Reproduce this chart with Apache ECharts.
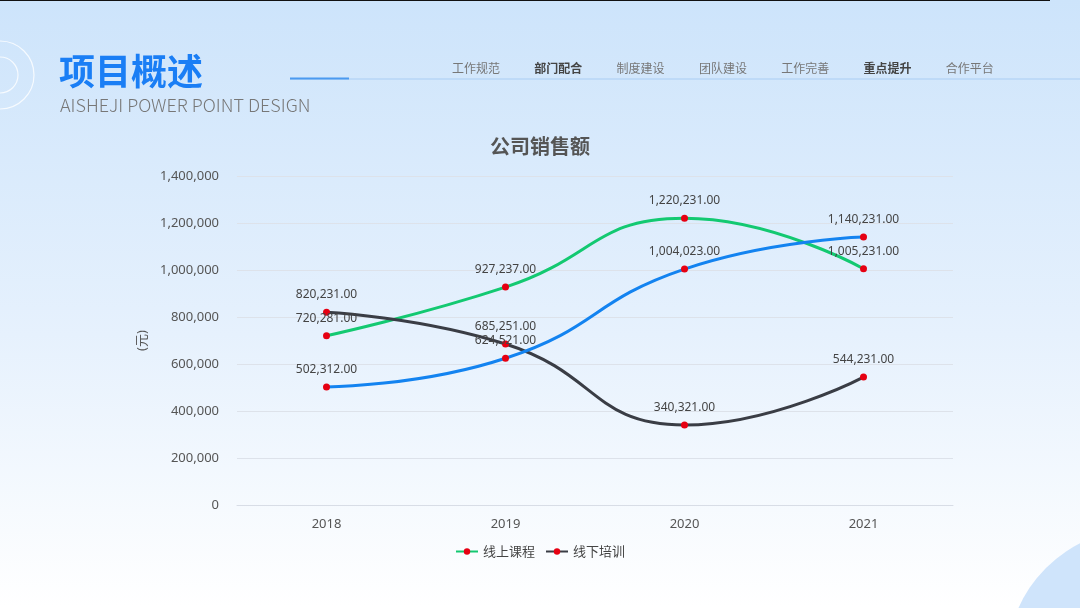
<!DOCTYPE html>
<html>
<head>
<meta charset="utf-8">
<script src="https://cdn.jsdelivr.net/npm/echarts@6/dist/echarts.min.js"></script>
<style>
  html, body { margin: 0; padding: 0; }
  #chart { width: 1080px; height: 608px; }
</style>
</head>
<body>
<div id="chart"></div>
<script>
const years = ['2018', '2019', '2020', '2021'];
const onlineCourse = [720281, 927237, 1220231, 1005231];
const offlineTraining = [820231, 685251, 340321, 544231];
const thirdSeries = [502312, 624521, 1004023, 1140231];
const navItems = ['工作规范', '部门配合', '制度建设', '团队建设', '工作完善', '重点提升', '合作平台'];
const navBold = ['部门配合', '重点提升'];

const font = '"Noto Sans", "Noto Sans CJK SC", sans-serif';
const cjk = '"Noto Sans CJK SC", sans-serif';

function money(v) {
    return v.toFixed(2).replace(/\B(?=(\d{3})+(?!\d))/g, ',');
}

const chart = echarts.init(document.getElementById('chart'));

// 顶部导航
const navGraphics = navItems.map((t, i) => ({
    type: 'text',
    left: 452 + i * 82.3,
    top: 62,
    style: {
        text: t,
        font: (navBold.includes(t) ? 'bold ' : '') + '12px ' + cjk,
        fill: navBold.includes(t) ? '#444' : '#777'
    }
}));

function lineSeries(name, data, color) {
    return {
        name: name,
        type: 'line',
        smooth: true,
        data: data,
        symbol: 'circle',
        symbolSize: 7,
        lineStyle: { width: 3, color: color },
        itemStyle: { color: '#e60012' },
        label: {
            show: true,
            position: 'top',
            distance: 8,
            color: '#444',
            fontSize: 12,
            fontFamily: font,
            formatter: p => money(p.value)
        }
    };
}

chart.setOption({
    backgroundColor: {
        type: 'linear', x: 0, y: 0, x2: 0, y2: 1,
        colorStops: [
            { offset: 0, color: '#cde4fb' },
            { offset: 0.55, color: '#e6f1fd' },
            { offset: 1, color: '#ffffff' }
        ]
    },
    graphic: [
        { type: 'rect', shape: { x: 0, y: 0, width: 1050, height: 1 }, style: { fill: '#111' } },
        { type: 'circle', shape: { cx: 1140, cy: 662, r: 133 }, style: { fill: '#cfe4fb' }, z: -1 },
        { type: 'circle', shape: { cx: 0, cy: 75, r: 34 }, style: { fill: 'none', stroke: 'rgba(255,255,255,0.8)', lineWidth: 1.2 } },
        { type: 'circle', shape: { cx: 0, cy: 75, r: 18 }, style: { fill: 'none', stroke: 'rgba(255,255,255,0.8)', lineWidth: 1.2 } },
        {
            type: 'text', left: 59, top: 53,
            style: { text: '项目概述', font: 'bold 36px ' + cjk, fill: '#1a7ef5' }
        },
        {
            type: 'text', left: 60, top: 96,
            style: { text: 'AISHEJI POWER POINT DESIGN', font: '300 18px ' + cjk, fill: '#777' }
        },
        { type: 'rect', shape: { x: 290, y: 78.5, width: 790, height: 1 }, style: { fill: '#a9cdf3' } },
        { type: 'rect', shape: { x: 290, y: 77.5, width: 59, height: 2 }, style: { fill: '#4b9af0' } }
    ].concat(navGraphics),
    title: {
        text: '公司销售额',
        left: 'center',
        top: 131,
        textStyle: { fontSize: 20, fontWeight: 'bold', color: '#555', fontFamily: cjk }
    },
    legend: {
        data: ['线上课程', '线下培训'],
        bottom: 45,
        left: 'center',
        itemWidth: 22,
        itemHeight: 8,
        itemGap: 10,
        textStyle: { fontSize: 13, color: '#444', fontFamily: cjk }
    },
    grid: { left: 237, right: 127, top: 176, bottom: 103 },
    xAxis: {
        type: 'category',
        data: years,
        boundaryGap: true,
        axisLine: { lineStyle: { color: '#d8dde6' } },
        axisTick: { show: false },
        axisLabel: { color: '#555', fontSize: 13, margin: 13, fontFamily: font }
    },
    yAxis: {
        type: 'value',
        min: 0,
        max: 1400000,
        interval: 200000,
        name: '(元)',
        nameLocation: 'middle',
        nameGap: 86,
        nameRotate: 90,
        nameTextStyle: { color: '#555', fontSize: 13, fontFamily: font },
        axisLine: { show: false },
        axisTick: { show: false },
        splitLine: { lineStyle: { color: '#dde2ea' } },
        axisLabel: {
            color: '#555', fontSize: 13, margin: 18, fontFamily: font,
            formatter: v => v.toString().replace(/\B(?=(\d{3})+(?!\d))/g, ',')
        }
    },
    series: [
        lineSeries('线上课程', onlineCourse, '#13c971'),
        lineSeries('线下培训', offlineTraining, '#3a3d45'),
        lineSeries('', thirdSeries, '#1383f0')
    ]
});
</script>
</body>
</html>
